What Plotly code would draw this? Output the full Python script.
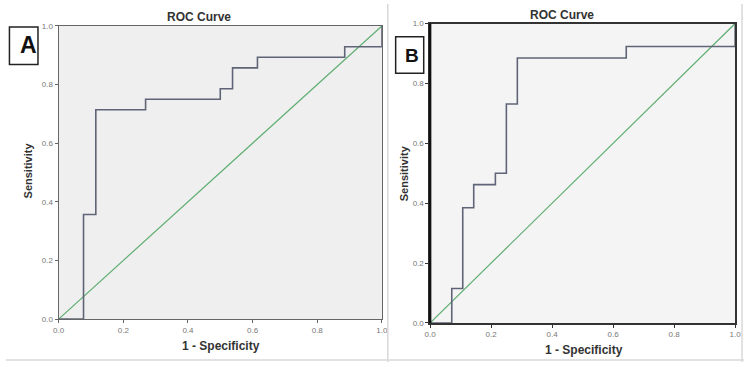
import plotly.graph_objects as go

# Panel A ROC data
fpr_a = [0.0, 0.077, 0.115, 0.269, 0.500, 0.538, 0.615, 0.885, 1.0]
tpr_a = [0.0, 0.357, 0.714, 0.750, 0.786, 0.857, 0.893, 0.929, 1.0]
# Panel B ROC data
fpr_b = [0.0, 0.071, 0.107, 0.143, 0.214, 0.250, 0.286, 0.643, 1.0]
tpr_b = [0.0, 0.115, 0.385, 0.462, 0.500, 0.731, 0.885, 0.923, 1.0]
ref_line = [0.0, 1.0]
tick_vals = [0.0, 0.2, 0.4, 0.6, 0.8, 1.0]
tick_text = ["0.0", "0.2", "0.4", "0.6", "0.8", "1.0"]

W, H = 750, 367
def px(x): return x / W
def py(y): return 1 - y / H

step_color = "#5f6577"
diag_color = "#5fae72"

fig = go.Figure()
fig.add_trace(go.Scatter(x=ref_line, y=ref_line, mode="lines", line=dict(color=diag_color, width=1.2),
                         xaxis="x", yaxis="y", showlegend=False))
fig.add_trace(go.Scatter(x=fpr_a, y=tpr_a, mode="lines", line=dict(color=step_color, width=1.6, shape="hv"),
                         xaxis="x", yaxis="y", showlegend=False))
fig.add_trace(go.Scatter(x=ref_line, y=ref_line, mode="lines", line=dict(color=diag_color, width=1.2),
                         xaxis="x2", yaxis="y2", showlegend=False))
fig.add_trace(go.Scatter(x=fpr_b, y=tpr_b, mode="lines", line=dict(color=step_color, width=1.6, shape="hv"),
                         xaxis="x2", yaxis="y2", showlegend=False))

tickfont = dict(family="Liberation Sans, Arial", size=8, color="#777")
def axis(domain, anchor, linecolor, lw):
    return dict(domain=domain, anchor=anchor, range=[0, 1], tickvals=tick_vals, ticktext=tick_text,
                ticks="outside", ticklen=3, tickcolor=linecolor, tickfont=tickfont,
                showline=True, linecolor=linecolor, linewidth=lw, mirror=True,
                showgrid=False, zeroline=False, fixedrange=True)

ax_x = axis([px(53.5), px(382)], "y", "#666", 1.2)
ax_y = axis([py(323), py(22.5)], "x", "#666", 1.2)
bx_x = axis([px(431), px(741)], "y2", "#333", 1.5)
bx_y = axis([py(327), py(20)], "x2", "#333", 1.5)

fig.update_layout(
    width=W, height=H, margin=dict(l=0, r=0, t=0, b=0),
    paper_bgcolor="white", plot_bgcolor="#efefef",
    xaxis=ax_x, yaxis=ax_y, xaxis2=bx_x, yaxis2=bx_y,
)

shapes = [
    dict(type="rect", xref="x2", yref="y2", x0=0, x1=1, y0=0, y1=1, fillcolor="#f4f4f4",
         line=dict(width=0), layer="below"),
    dict(type="line", xref="paper", yref="paper", x0=px(431), x1=px(431), y0=py(327), y1=py(20),
         line=dict(color="#111", width=2.5)),
    dict(type="line", xref="paper", yref="paper", x0=px(388), x1=px(388), y0=0, y1=1,
         line=dict(color="#d8d8d8", width=1.5)),
    dict(type="line", xref="paper", yref="paper", x0=px(748), x1=px(748), y0=0, y1=1,
         line=dict(color="#d8d8d8", width=1.5)),
    dict(type="line", xref="paper", yref="paper", x0=0, x1=1, y0=py(365), y1=py(365),
         line=dict(color="#d8d8d8", width=1.5)),
    dict(type="rect", xref="paper", yref="paper", x0=px(3.5), x1=px(32.5), y0=py(62), y1=py(23.5),
         line=dict(color="#222", width=1.5), fillcolor="white"),
    dict(type="rect", xref="paper", yref="paper", x0=px(396), x1=px(424.5), y0=py(71), y1=py(33.5),
         line=dict(color="#222", width=1.5), fillcolor="white"),
]
fig.update_layout(shapes=shapes)

titlefont = dict(family="Liberation Sans, Arial", size=12, color="#333")
labfont = dict(family="Liberation Sans, Arial", size=11, color="#333")
xlabfont = dict(family="Liberation Sans, Arial", size=12, color="#333")
ann = [
    dict(text="<b>ROC Curve</b>", x=px(196), y=py(13), font=titlefont),
    dict(text="<b>ROC Curve</b>", x=px(565), y=py(11), font=titlefont),
    dict(text="<b>Sensitivity</b>", x=px(22), y=py(171), font=labfont, textangle=-90),
    dict(text="<b>Sensitivity</b>", x=px(404), y=py(174), font=labfont, textangle=-90),
    dict(text="<b>1 - Specificity</b>", x=px(218), y=py(351), font=xlabfont),
    dict(text="<b>1 - Specificity</b>", x=px(587), y=py(355), font=xlabfont),
    dict(text="<b>A</b>", x=px(23), y=py(42), font=dict(family="Liberation Sans, Arial", size=23, color="#111")),
    dict(text="<b>B</b>", x=px(413), y=py(53), font=dict(family="Liberation Sans, Arial", size=19, color="#111")),
]
for a in ann:
    a.update(xref="paper", yref="paper", showarrow=False, xanchor="center", yanchor="middle")
fig.update_layout(annotations=ann)

fig.write_html("out.html")
